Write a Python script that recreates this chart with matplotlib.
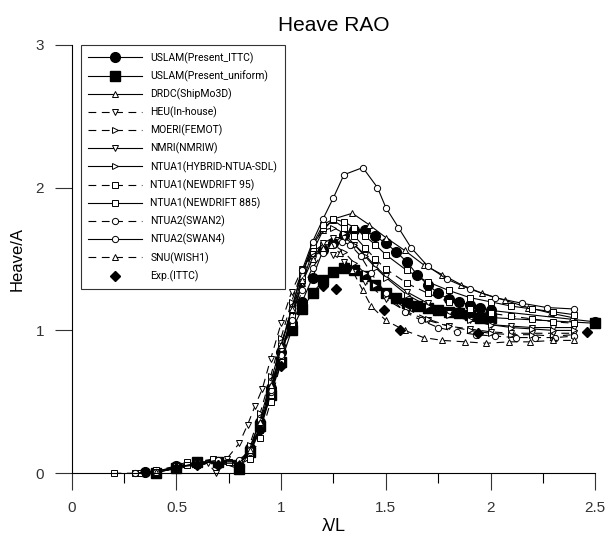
import matplotlib
matplotlib.use('Agg')
import matplotlib.pyplot as plt
from matplotlib.ticker import MultipleLocator

# wave length ratio / heave amplitude
ittc_x = [0.35, 0.4, 0.5, 0.6, 0.7, 0.8, 0.85, 0.9, 0.95, 1.0, 1.05, 1.1, 1.15, 1.2, 1.25, 1.3, 1.35, 1.4,
          1.45, 1.5, 1.55, 1.6, 1.65, 1.7, 1.75, 1.8, 1.85, 1.9, 1.95, 2.0, 2.5]
ittc_y = [0.01, 0.01, 0.05, 0.08, 0.07, 0.05, 0.18, 0.36, 0.6, 0.85, 1.05, 1.2, 1.37, 1.56, 1.61, 1.67, 1.70, 1.70,
          1.66, 1.61, 1.55, 1.48, 1.39, 1.32, 1.26, 1.22, 1.20, 1.18, 1.16, 1.14, 1.06]

unif_x = [0.4, 0.5, 0.6, 0.7, 0.8, 0.85, 0.9, 0.95, 1.0, 1.05, 1.1, 1.15, 1.2, 1.25, 1.3, 1.35, 1.4, 1.45,
          1.5, 1.55, 1.6, 1.65, 1.7, 1.75, 1.8, 1.85, 1.9, 1.95, 2.0, 2.5]
unif_y = [0.0, 0.04, 0.08, 0.08, 0.03, 0.15, 0.33, 0.55, 0.78, 1.0, 1.15, 1.26, 1.35, 1.41, 1.44, 1.42, 1.38, 1.32,
          1.26, 1.23, 1.19, 1.17, 1.16, 1.14, 1.13, 1.12, 1.11, 1.09, 1.09, 1.05]

drdc_x = [0.35, 0.4, 0.5, 0.6, 0.7, 0.8, 0.85, 0.9, 0.95, 1.0, 1.05, 1.1, 1.15, 1.2, 1.25, 1.34, 1.42, 1.5,
          1.59, 1.68, 1.77, 1.86, 1.96, 2.07, 2.18, 2.29, 2.39]
drdc_y = [0.0, 0.01, 0.03, 0.06, 0.08, 0.07, 0.15, 0.32, 0.56, 0.82, 1.08, 1.33, 1.55, 1.7, 1.78, 1.82, 1.74, 1.65,
          1.56, 1.46, 1.39, 1.32, 1.26, 1.21, 1.16, 1.12, 1.09]

heu_x = [0.3, 0.4, 0.5, 0.6, 0.65, 0.69, 0.74, 0.8, 0.84, 0.875, 0.91, 0.95, 1.0, 1.05, 1.1, 1.15, 1.2, 1.25,
         1.3, 1.35, 1.4, 1.5, 1.6, 1.7, 1.8, 1.9, 2.0, 2.1, 2.2, 2.3, 2.4]
heu_y = [0.0, 0.01, 0.03, 0.06, 0.07, 0.0, 0.10, 0.21, 0.34, 0.47, 0.59, 0.8, 1.05, 1.27, 1.43, 1.52, 1.55, 1.53,
         1.48, 1.41, 1.34, 1.22, 1.13, 1.07, 1.03, 1.01, 0.99, 0.98, 0.98, 0.98, 0.98]

grid_x = [0.35, 0.4, 0.5, 0.6, 0.7, 0.8, 0.85, 0.9, 0.95, 1.0, 1.05, 1.1, 1.15, 1.2, 1.25, 1.3, 1.35, 1.4,
          1.45, 1.5, 1.6, 1.7, 1.8, 1.9, 2.0, 2.1, 2.2, 2.3, 2.4]
moeri_y = [0.0, 0.01, 0.04, 0.06, 0.08, 0.08, 0.2, 0.42, 0.68, 0.95, 1.2, 1.42, 1.55, 1.6, 1.6, 1.55, 1.47, 1.4,
           1.32, 1.25, 1.15, 1.08, 1.03, 1.0, 0.98, 0.97, 0.97, 0.96, 0.97]
nmri_y = [0.0, 0.01, 0.04, 0.07, 0.08, 0.07, 0.14, 0.33, 0.58, 0.85, 1.1, 1.33, 1.5, 1.61, 1.65, 1.65, 1.6, 1.53,
          1.45, 1.38, 1.27, 1.19, 1.12, 1.07, 1.04, 1.03, 1.02, 1.02, 1.02]
hybrid_y = [0.0, 0.01, 0.04, 0.07, 0.08, 0.08, 0.17, 0.38, 0.64, 0.9, 1.15, 1.4, 1.6, 1.7, 1.72, 1.68, 1.6, 1.52,
            1.44, 1.37, 1.25, 1.17, 1.11, 1.07, 1.04, 1.02, 1.01, 1.0, 1.0]

nd95_x = [0.2, 0.32, 0.4, 0.5, 0.55, 0.6, 0.675, 0.75, 0.8, 0.85, 0.9, 0.95, 1.0, 1.05, 1.1, 1.15, 1.2, 1.25,
          1.3, 1.35, 1.4, 1.45, 1.5, 1.6, 1.7, 1.8, 1.9, 2.0, 2.1, 2.2, 2.3, 2.4]
nd95_y = [0.0, 0.0, 0.02, 0.05, 0.08, 0.08, 0.1, 0.08, 0.06, 0.1, 0.25, 0.5, 0.78, 1.05, 1.35, 1.58, 1.72, 1.77,
          1.72, 1.66, 1.58, 1.5, 1.43, 1.33, 1.26, 1.2, 1.15, 1.12, 1.1, 1.08, 1.06, 1.05]

nd885_x = [0.3, 0.4, 0.5, 0.55, 0.6, 0.7, 0.8, 0.85, 0.9, 0.95, 1.0, 1.05, 1.1, 1.15, 1.2, 1.25, 1.3, 1.35,
           1.4, 1.45, 1.5, 1.6, 1.7, 1.8, 1.9, 2.0, 2.1, 2.2, 2.3, 2.4]
nd885_y = [0.0, 0.01, 0.04, 0.06, 0.07, 0.09, 0.08, 0.14, 0.3, 0.55, 0.82, 1.1, 1.38, 1.6, 1.74, 1.78, 1.76, 1.72,
           1.66, 1.6, 1.53, 1.42, 1.34, 1.28, 1.23, 1.2, 1.17, 1.15, 1.13, 1.11]

swan2_x = [0.35, 0.4, 0.5, 0.6, 0.7, 0.8, 0.85, 0.9, 0.95, 1.0, 1.05, 1.1, 1.15, 1.2, 1.25, 1.29, 1.33, 1.38,
           1.43, 1.5, 1.59, 1.67, 1.75, 1.84, 1.93, 2.02, 2.12, 2.21, 2.31, 2.4]
swan2_y = [0.0, 0.01, 0.04, 0.07, 0.08, 0.08, 0.15, 0.33, 0.57, 0.83, 1.07, 1.28, 1.44, 1.54, 1.6, 1.62, 1.6, 1.52,
           1.4, 1.26, 1.13, 1.07, 1.02, 0.99, 0.97, 0.96, 0.95, 0.95, 0.95, 0.96]

swan4_x = [0.3, 0.4, 0.5, 0.6, 0.7, 0.8, 0.85, 0.9, 0.95, 1.0, 1.05, 1.1, 1.15, 1.2, 1.25, 1.3, 1.39, 1.46,
           1.5, 1.56, 1.62, 1.7, 1.79, 1.9, 2.02, 2.15, 2.27, 2.4]
swan4_y = [0.0, 0.01, 0.04, 0.07, 0.09, 0.09, 0.16, 0.32, 0.58, 0.88, 1.15, 1.42, 1.62, 1.78, 1.93, 2.09, 2.14, 2.0,
           1.86, 1.72, 1.58, 1.45, 1.36, 1.29, 1.23, 1.19, 1.16, 1.15]

snu_x = [0.35, 0.4, 0.5, 0.6, 0.7, 0.8, 0.85, 0.9, 0.95, 1.0, 1.05, 1.1, 1.15, 1.2, 1.24, 1.28, 1.34, 1.39,
         1.43, 1.5, 1.59, 1.68, 1.77, 1.88, 1.98, 2.09, 2.19, 2.3, 2.4]
snu_y = [0.0, 0.01, 0.04, 0.06, 0.07, 0.07, 0.16, 0.36, 0.62, 0.9, 1.15, 1.35, 1.5, 1.58, 1.6, 1.54, 1.42, 1.28,
         1.17, 1.07, 1.0, 0.95, 0.93, 0.92, 0.91, 0.92, 0.92, 0.93, 0.93]

exp_x = [0.35, 0.5, 0.6, 0.7, 0.8, 0.9, 1.0, 1.1, 1.2, 1.26, 1.49, 1.57, 1.94, 2.46]
exp_y = [0.01, 0.04, 0.06, 0.06, 0.05, 0.3, 0.75, 1.15, 1.31, 1.29, 1.14, 1.0, 0.98, 0.99]

x_ticks = [0, 0.5, 1, 1.5, 2, 2.5]
x_labels = ['0', '0.5', '1', '1.5', '2', '2.5']
y_ticks = [0, 1, 2, 3]
y_labels = ['0', '1', '2', '3']

plt.rcParams['font.family'] = ['Liberation Sans', 'DejaVu Sans']

fig = plt.figure(figsize=(6.08, 5.39), dpi=100)
ax = fig.add_axes([0.118, 0.122, 0.861, 0.795])

dash = (0, (7, 5))
open_kw = dict(color='black', lw=0.8, mfc='white', mec='black', mew=0.7, ms=4.5, clip_on=False)

ax.plot(ittc_x, ittc_y, '-', marker='o', color='black', lw=0.8, ms=7, clip_on=False, label='USLAM(Present_ITTC)')
ax.plot(unif_x, unif_y, '-', marker='s', color='black', lw=0.8, ms=6.5, clip_on=False, label='USLAM(Present_uniform)')
ax.plot(drdc_x, drdc_y, ls='-', marker='^', label='DRDC(ShipMo3D)', **open_kw)
ax.plot(heu_x, heu_y, ls=dash, marker='v', label='HEU(In-house)', **open_kw)
ax.plot(grid_x, moeri_y, ls=dash, marker='>', label='MOERI(FEMOT)', **open_kw)
ax.plot(grid_x, nmri_y, ls='-', marker='v', label='NMRI(NMRIW)', **open_kw)
ax.plot(grid_x, hybrid_y, ls='-', marker='>', label='NTUA1(HYBRID-NTUA-SDL)', **open_kw)
ax.plot(nd95_x, nd95_y, ls=dash, marker='s', label='NTUA1(NEWDRIFT 95)', **open_kw)
ax.plot(nd885_x, nd885_y, ls='-', marker='s', label='NTUA1(NEWDRIFT 885)', **open_kw)
ax.plot(swan2_x, swan2_y, ls=dash, marker='o', label='NTUA2(SWAN2)', **open_kw)
ax.plot(swan4_x, swan4_y, ls='-', marker='o', label='NTUA2(SWAN4)', **open_kw)
ax.plot(snu_x, snu_y, ls=dash, marker='^', label='SNU(WISH1)', **open_kw)
ax.plot(exp_x, exp_y, ls='none', marker='D', color='black', ms=5, clip_on=False, label='Exp.(ITTC)')

ax.set_xlim(0, 2.5)
ax.set_ylim(0, 3)
ax.spines['top'].set_visible(False)
ax.spines['right'].set_visible(False)
ax.spines['left'].set_linewidth(0.8)
ax.spines['bottom'].set_linewidth(0.8)
ax.set_xticks(x_ticks)
ax.set_xticklabels(x_labels)
ax.xaxis.set_minor_locator(MultipleLocator(0.25))
ax.set_yticks(y_ticks)
ax.set_yticklabels(y_labels)
ax.tick_params(axis='both', which='major', direction='out', length=12, width=0.8, labelsize=11, pad=8, colors='#333333')
ax.tick_params(axis='x', which='minor', direction='out', length=7, width=0.8)

ax.set_title('Heave RAO', fontsize=15, pad=10)
ax.set_xlabel('λ/L', fontsize=13, labelpad=2)
ax.set_ylabel('Heave/A', fontsize=12, labelpad=8)

leg = ax.legend(loc='upper left', bbox_to_anchor=(0.017, 1.0), borderaxespad=0, handlelength=5.2,
                labelspacing=0.64, borderpad=0.7, frameon=True, fancybox=False, handletextpad=0.8,
                prop={'family': 'Roboto', 'size': 7.5})
leg.get_frame().set_edgecolor('black')
leg.get_frame().set_linewidth(0.8)

fig.savefig('out.png', dpi=100)
